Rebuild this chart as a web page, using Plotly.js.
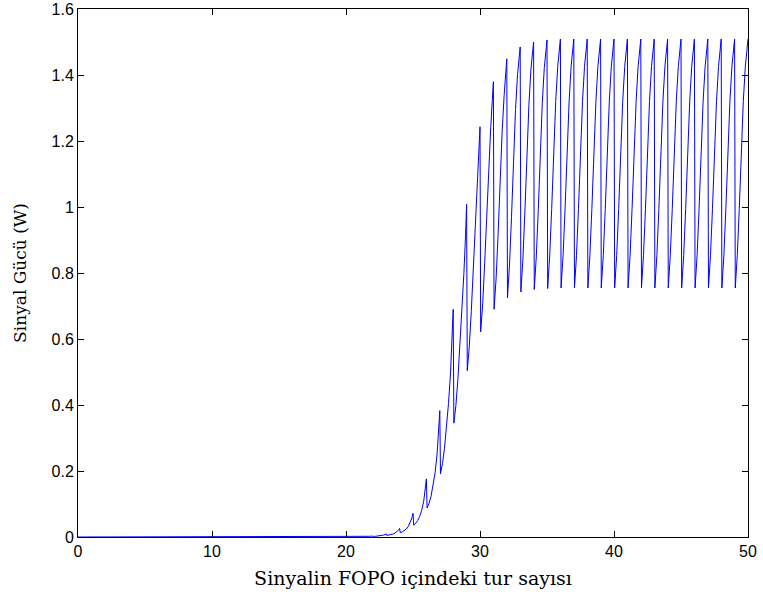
<!DOCTYPE html>
<html>
<head>
<meta charset="utf-8">
<script src="https://cdn.plot.ly/plotly-3.0.1.min.js"></script>
<style>html,body{margin:0;padding:0;background:#fff;}#chart{width:763px;height:601px;}</style>
</head>
<body>
<div id="chart"></div>
<script>
// Round-trip number (x) and signal power in W (y)
var roundTrip = [
  0, 20,
  20.05, 20.2, 20.35, 20.5, 20.65, 20.8, 20.92, 21,
  21.05, 21.2, 21.35, 21.5, 21.65, 21.8, 21.92, 22,
  22.05, 22.2, 22.35, 22.5, 22.65, 22.8, 22.92, 23,
  23.05, 23.2, 23.35, 23.5, 23.65, 23.8, 23.92, 24,
  24.05, 24.2, 24.35, 24.5, 24.65, 24.8, 24.92, 25,
  25.05, 25.2, 25.35, 25.5, 25.65, 25.8, 25.92, 26,
  26.05, 26.2, 26.35, 26.5, 26.65, 26.8, 26.92, 27,
  27.05, 27.2, 27.35, 27.5, 27.65, 27.8, 27.92, 28,
  28.05, 28.2, 28.35, 28.5, 28.65, 28.8, 28.92, 29,
  29.05, 29.2, 29.35, 29.5, 29.65, 29.8, 29.92, 30,
  30.05, 30.2, 30.35, 30.5, 30.65, 30.8, 30.92, 31,
  31.05, 31.2, 31.35, 31.5, 31.65, 31.8, 31.92, 32,
  32.05, 32.2, 32.35, 32.5, 32.65, 32.8, 32.92, 33,
  33.05, 33.2, 33.35, 33.5, 33.65, 33.8, 33.92, 34,
  34.05, 34.2, 34.35, 34.5, 34.65, 34.8, 34.92, 35,
  35.05, 35.2, 35.35, 35.5, 35.65, 35.8, 35.92, 36,
  36.05, 36.2, 36.35, 36.5, 36.65, 36.8, 36.92, 37,
  37.05, 37.2, 37.35, 37.5, 37.65, 37.8, 37.92, 38,
  38.05, 38.2, 38.35, 38.5, 38.65, 38.8, 38.92, 39,
  39.05, 39.2, 39.35, 39.5, 39.65, 39.8, 39.92, 40,
  40.05, 40.2, 40.35, 40.5, 40.65, 40.8, 40.92, 41,
  41.05, 41.2, 41.35, 41.5, 41.65, 41.8, 41.92, 42,
  42.05, 42.2, 42.35, 42.5, 42.65, 42.8, 42.92, 43,
  43.05, 43.2, 43.35, 43.5, 43.65, 43.8, 43.92, 44,
  44.05, 44.2, 44.35, 44.5, 44.65, 44.8, 44.92, 45,
  45.05, 45.2, 45.35, 45.5, 45.65, 45.8, 45.92, 46,
  46.05, 46.2, 46.35, 46.5, 46.65, 46.8, 46.92, 47,
  47.05, 47.2, 47.35, 47.5, 47.65, 47.8, 47.92, 48,
  48.05, 48.2, 48.35, 48.5, 48.65, 48.8, 48.92, 49,
  49.05, 49.2, 49.35, 49.5, 49.65, 49.8, 49.92, 50
];
var signalPower = [
  0, 0.0005,
  0.00025, 0.0003, 0.0004, 0.0005, 0.0006, 0.0008, 0.001, 0.0013,
  0.00065, 0.00076, 0.00094, 0.0012, 0.0016, 0.0021, 0.0028, 0.0035,
  0.00175, 0.0021, 0.0025, 0.0032, 0.0042, 0.0058, 0.0076, 0.0095,
  0.0048, 0.0056, 0.0069, 0.0088, 0.0116, 0.0158, 0.0209, 0.026,
  0.013, 0.0154, 0.0189, 0.0242, 0.0319, 0.0437, 0.0578, 0.072,
  0.036, 0.0416, 0.050, 0.0626, 0.0808, 0.1088, 0.1424, 0.176,
  0.088, 0.1025, 0.124, 0.1547, 0.1951, 0.2523, 0.3184, 0.383,
  0.1915, 0.2227, 0.2688, 0.3311, 0.4046, 0.4968, 0.5965, 0.690,
  0.345, 0.3984, 0.4769, 0.5784, 0.6855, 0.8002, 0.9115, 1.008,
  0.504, 0.5768, 0.6836, 0.8173, 0.947, 1.066, 1.1665, 1.243,
  0.6215, 0.7064, 0.8308, 0.9841, 1.1251, 1.2404, 1.3254, 1.380,
  0.690, 0.7818, 0.9162, 1.0801, 1.2266, 1.3374, 1.4103, 1.449,
  0.7245, 0.8234, 0.9679, 1.1428, 1.2949, 1.4013, 1.4622, 1.485,
  0.7425, 0.841, 0.9849, 1.1591, 1.3106, 1.4167, 1.4773, 1.500,
  0.750, 0.8483, 0.9919, 1.1658, 1.317, 1.4228, 1.4833, 1.506,
  0.753, 0.8513, 0.9949, 1.1688, 1.32, 1.4258, 1.4863, 1.509,
  0.7545, 0.8526, 0.996, 1.1695, 1.3204, 1.426, 1.4864, 1.509,
  0.7545, 0.8526, 0.996, 1.1695, 1.3204, 1.426, 1.4864, 1.509,
  0.7545, 0.8526, 0.996, 1.1695, 1.3204, 1.426, 1.4864, 1.509,
  0.7545, 0.8526, 0.996, 1.1695, 1.3204, 1.426, 1.4864, 1.509,
  0.7545, 0.8526, 0.996, 1.1695, 1.3204, 1.426, 1.4864, 1.509,
  0.7545, 0.8526, 0.996, 1.1695, 1.3204, 1.426, 1.4864, 1.509,
  0.7545, 0.8526, 0.996, 1.1695, 1.3204, 1.426, 1.4864, 1.509,
  0.7545, 0.8526, 0.996, 1.1695, 1.3204, 1.426, 1.4864, 1.509,
  0.7545, 0.8526, 0.996, 1.1695, 1.3204, 1.426, 1.4864, 1.509,
  0.7545, 0.8526, 0.996, 1.1695, 1.3204, 1.426, 1.4864, 1.509,
  0.7545, 0.8526, 0.996, 1.1695, 1.3204, 1.426, 1.4864, 1.509,
  0.7545, 0.8526, 0.996, 1.1695, 1.3204, 1.426, 1.4864, 1.509,
  0.7545, 0.8526, 0.996, 1.1695, 1.3204, 1.426, 1.4864, 1.509,
  0.7545, 0.8526, 0.996, 1.1695, 1.3204, 1.426, 1.4864, 1.509,
  0.7545, 0.8526, 0.996, 1.1695, 1.3204, 1.426, 1.4864, 1.509
];
var xTickVals = [0, 10, 20, 30, 40, 50];
var yTickVals = [0, 0.2, 0.4, 0.6, 0.8, 1, 1.2, 1.4, 1.6];
var xTitle = 'Sinyalin FOPO içindeki tur sayısı';
var yTitle = 'Sinyal Gücü (W)';

var trace = {
  x: roundTrip,
  y: signalPower,
  type: 'scatter',
  mode: 'lines',
  line: {color: '#0000ff', width: 1},
  hoverinfo: 'skip'
};

var tickFont = {family: 'Liberation Sans, Arial, sans-serif', size: 16, color: '#000'};
var xTitleFont = {family: 'DejaVu Serif, serif', size: 19, color: '#000'};
var yTitleFont = {family: 'DejaVu Serif, serif', size: 17, color: '#000'};

var layout = {
  width: 763,
  height: 601,
  margin: {l: 78, r: 15, t: 9, b: 64, pad: 0},
  paper_bgcolor: '#fff',
  plot_bgcolor: '#fff',
  showlegend: false,
  xaxis: {
    range: [0, 50],
    tickvals: xTickVals,
    ticks: 'inside',
    ticklen: 6,
    tickcolor: '#000',
    showline: true,
    linecolor: '#000',
    linewidth: 1,
    mirror: 'ticks',
    showgrid: false,
    zeroline: false,
    tickfont: tickFont,
    title: {text: xTitle, font: xTitleFont, standoff: 12},
    automargin: false
  },
  yaxis: {
    range: [0, 1.6],
    tickvals: yTickVals,
    ticks: 'inside',
    ticklen: 6,
    tickcolor: '#000',
    showline: true,
    linecolor: '#000',
    linewidth: 1,
    mirror: 'ticks',
    showgrid: false,
    zeroline: false,
    tickfont: tickFont,
    title: {text: yTitle, font: yTitleFont, standoff: 20},
    automargin: false
  }
};

Plotly.newPlot('chart', [trace], layout, {displayModeBar: false, staticPlot: true});
</script>
</body>
</html>
